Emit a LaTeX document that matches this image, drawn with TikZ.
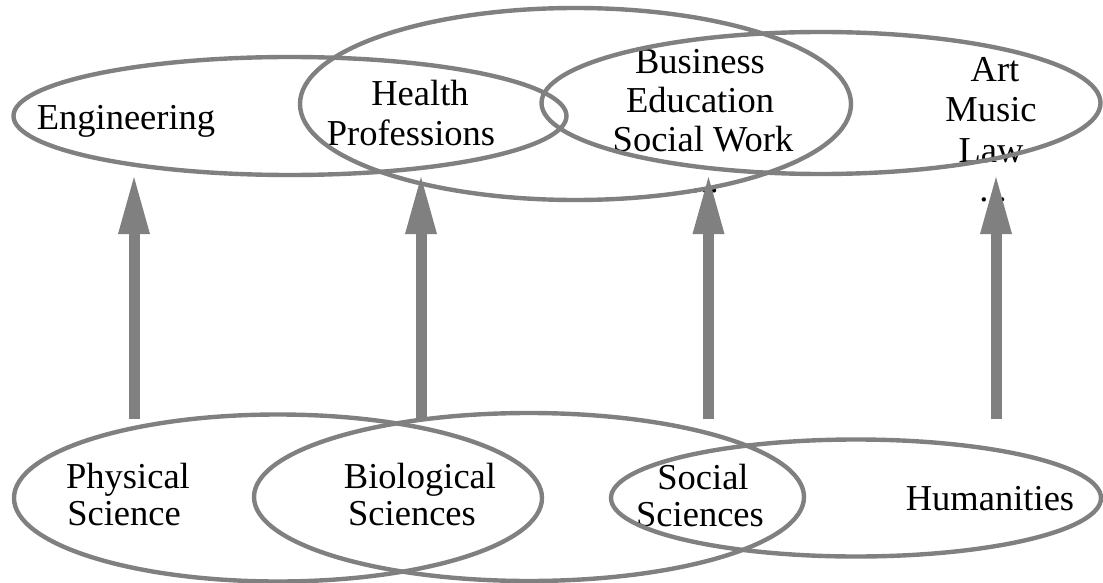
\documentclass[tikz,border=0pt]{standalone}
\usepackage{fontspec}
\setmainfont{Liberation Serif}
\usetikzlibrary{shapes.geometric,arrows.meta}
\definecolor{ringgray}{HTML}{808080}
\begin{document}
\begin{tikzpicture}[x=1pt,y=-1pt,
  ring/.style={ellipse,draw=ringgray,line width=4.4pt,inner sep=0pt,outer sep=0pt},
  lbl/.style={anchor=base,inner sep=0pt,font=\fontsize{36.5}{39}\selectfont},
  uparrow/.style={draw=ringgray,line width=11pt,-{Triangle[width=32pt,length=57pt,line width=0pt]}}]
\useasboundingbox (0,0) rectangle (1103,583);
% ---- top labels
\node[lbl] (tEng) at (126,130) {Engineering};
\node[lbl] (tHea) at (420,106) {Health};
\node[lbl] (tPro) at (411,146) {Professions};
\node[lbl] (tBus) at (700,74) {Business};
\node[lbl] (tEdu) at (700,113) {Education};
\node[lbl] (tSoW) at (703,152) {Social Work};
\node[lbl] (tDotA) at (705,193) {...};
\node[lbl] (tArt) at (995,82) {Art};
\node[lbl] (tMus) at (991,122) {Music};
\node[lbl] (tLaw) at (991,162) {Law};
\node[lbl] (tDotB) at (993,201) {...};
% ---- bottom labels
\node[lbl] (tPhy) at (128,488) {Physical};
\node[lbl] (tSci) at (124,525) {Science};
\node[lbl] (tBio) at (420,488) {Biological};
\node[lbl] (tBSc) at (412,525) {Sciences};
\node[lbl] (tSoc) at (703,489) {Social};
\node[lbl] (tSSc) at (700,526) {Sciences};
\node[lbl] (tHum) at (990,510) {Humanities};
% ---- top ellipses
\node[ring,minimum width=553pt,minimum height=118pt] (rEng) at (290,116) {};
\node[ring,minimum width=551pt,minimum height=192pt] (rHea) at (575.5,104) {};
\node[ring,minimum width=559pt,minimum height=142pt] (rArt) at (821,103) {};
% ---- bottom ellipses
\node[ring,minimum width=528pt,minimum height=167pt] (rPhy) at (278,498) {};
\node[ring,minimum width=550pt,minimum height=168pt] (rBio) at (529,497) {};
\node[ring,minimum width=490pt,minimum height=117pt] (rHum) at (856,498) {};
% ---- arrows
\coordinate (s1) at (134,419); \coordinate (e1) at (134,177);
\coordinate (s2) at (421,419); \coordinate (e2) at (421,177);
\coordinate (s3) at (708.5,419); \coordinate (e3) at (708.5,177);
\coordinate (s4) at (996,419); \coordinate (e4) at (996,177);
\draw[uparrow] (s1) -- (e1);
\draw[uparrow] (s2) -- (e2);
\draw[uparrow] (s3) -- (e3);
\draw[uparrow] (s4) -- (e4);
\end{tikzpicture}
\end{document}
